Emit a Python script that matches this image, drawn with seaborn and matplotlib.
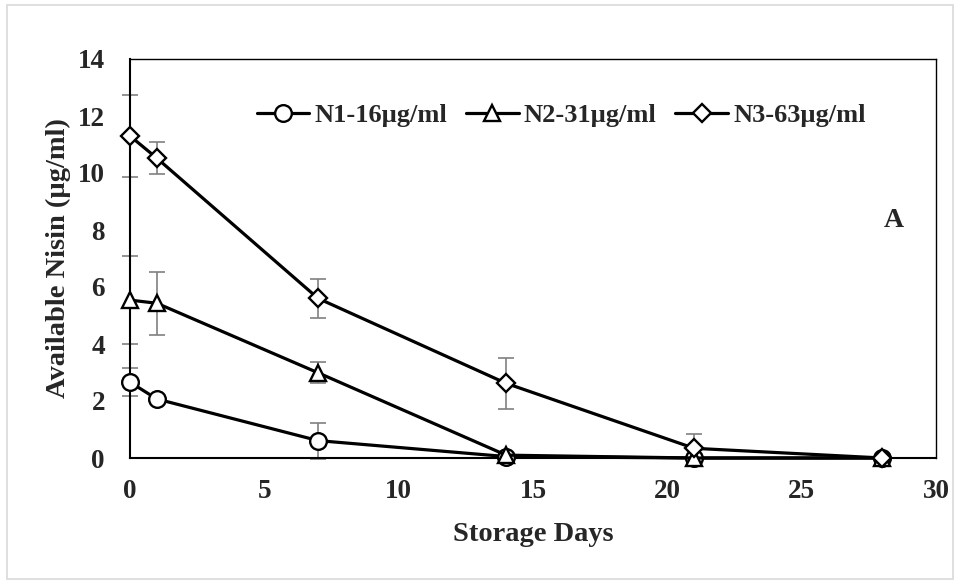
import numpy as np
import pandas as pd
import matplotlib
matplotlib.use("Agg")
import matplotlib.pyplot as plt
import seaborn as sns
from matplotlib.patches import Rectangle

days = [0, 1, 7, 14, 21, 28]
series_names = ["N1-16µg/ml", "N2-31µg/ml", "N3-63µg/ml"]
n1 = [2.66, 2.07, 0.61, 0.05, 0.0, 0.0]
n2 = [5.54, 5.43, 2.99, 0.10, 0.0, 0.0]
n3 = [11.30, 10.52, 5.60, 2.62, 0.34, 0.0]
n1_err = [0.50, 0.15, 0.63, 0.0, 0.0, 0.0]
n2_err = [1.55, 1.10, 0.37, 0.0, 0.0, 0.0]
n3_err = [1.44, 0.56, 0.68, 0.89, 0.49, 0.0]
markers = ["o", "^", "D"]
x_ticks = [0, 5, 10, 15, 20, 25, 30]
y_ticks = [0, 2, 4, 6, 8, 10, 12, 14]

sns.set_theme(style="white")
plt.rcParams["font.family"] = ["Liberation Serif", "DejaVu Serif"]
plt.rcParams["font.weight"] = "bold"

df = pd.DataFrame({
    "day": days * 3,
    "value": n1 + n2 + n3,
    "series": [s for s in series_names for _ in days],
})

fig = plt.figure(figsize=(9.6, 5.82), dpi=100)
ax = fig.add_axes([130 / 960, 1 - 458 / 582, (936 - 130) / 960, (458 - 59) / 582])

sns.lineplot(
    data=df, x="day", y="value", hue="series", style="series",
    markers=dict(zip(series_names, markers)), dashes=False,
    palette=["black"] * 3, linewidth=2.3, markersize=12,
    markerfacecolor="white", markeredgecolor="black", markeredgewidth=1.7,
    legend=False, ax=ax, zorder=3, clip_on=False,
)
line_handles = list(ax.lines)
for ln, mk in zip(line_handles, markers):
    ln.set_clip_on(False)
    if mk == "D":
        ln.set_markersize(9.5)

for vals, errs in [(n1, n1_err), (n2, n2_err), (n3, n3_err)]:
    ax.errorbar(days, vals, yerr=errs, fmt="none", ecolor="#808080",
                elinewidth=1.2, capsize=5.5, capthick=1.2, zorder=2, clip_on=False)

ax.set_xlim(0, 30)
ax.set_ylim(0, 14)
ax.set_xticks(x_ticks)
ax.set_yticks(y_ticks)
ax.tick_params(axis="both", length=0, labelsize=19.5)
ax.tick_params(axis="y", pad=18)
ax.tick_params(axis="x", pad=15)
for lab in ax.get_xticklabels() + ax.get_yticklabels():
    lab.set_fontweight("bold")
ax.set_xlabel("Storage Days", fontsize=20.5, fontweight="bold", labelpad=13)
ax.set_ylabel("Available Nisin (µg/ml)", fontsize=20.5, fontweight="bold", labelpad=5)
for sp in ax.spines.values():
    sp.set_visible(True)
    sp.set_color("black")
    sp.set_linewidth(1.0)
ax.spines["left"].set_linewidth(1.5)
ax.spines["bottom"].set_linewidth(1.5)

leg = ax.legend(line_handles, series_names, loc="center", bbox_to_anchor=(0.535, 0.858),
                ncol=3, frameon=False, handlelength=2.0, handletextpad=0.2,
                columnspacing=0.7, prop={"size": 19, "weight": "bold"})

ax.text(0.948, 0.595, "A", transform=ax.transAxes, fontsize=20, fontweight="bold",
        ha="center", va="center")

fig.patches.append(Rectangle((7 / 960, 3 / 582), 946 / 960, 574 / 582, transform=fig.transFigure,
                             fill=False, edgecolor="#d9d9d9", linewidth=1.2))

fig.savefig("out.png", dpi=100)
